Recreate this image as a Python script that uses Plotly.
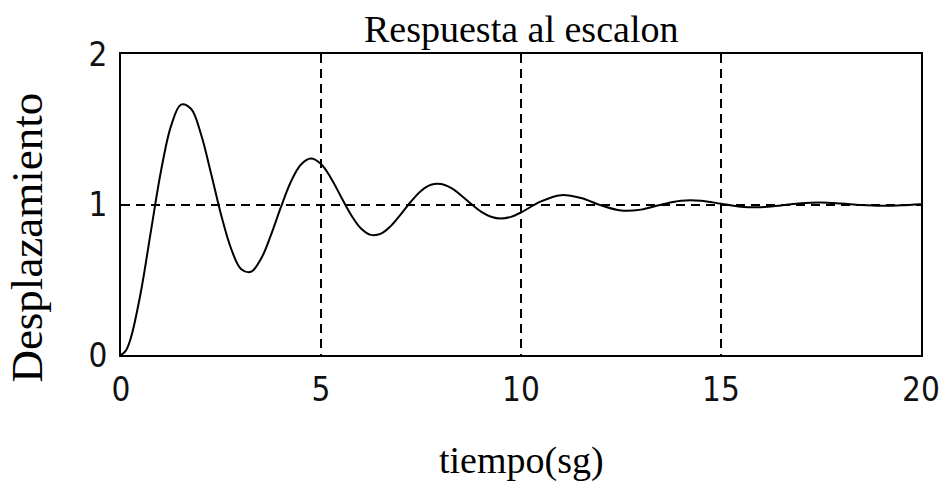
import plotly.graph_objects as go

# Step response (time in s, displacement)
t = [0, 0.125, 0.25, 0.5, 0.75, 1.0, 1.25, 1.5, 1.75, 2.0, 2.25, 2.5, 2.75, 3.0, 3.25, 3.5, 3.75,
     4.0, 4.25, 4.5, 4.75, 5.0, 5.25, 5.5, 5.75, 6.0, 6.25, 6.5, 6.75, 7.0, 7.25, 7.5, 7.75,
     8.0, 8.25, 8.5, 8.75, 9.0, 9.25, 9.5, 9.75, 10.0, 10.5, 11.0, 11.5, 12.0, 12.5, 13.0,
     13.5, 14.0, 14.5, 15.0, 15.5, 16.0, 16.5, 17.0, 17.5, 18.0, 18.5, 19.0, 19.5, 20.0]
y = [0.0, 0.031, 0.117, 0.424, 0.827, 1.223, 1.521, 1.664, 1.636, 1.467, 1.208, 0.934, 0.709, 0.572,
     0.553, 0.639, 0.798, 0.984, 1.153, 1.266, 1.305, 1.269, 1.175, 1.052, 0.932, 0.841, 0.798,
     0.806, 0.858, 0.936, 1.020, 1.090, 1.131, 1.136, 1.110, 1.062, 1.005, 0.953, 0.919, 0.907,
     0.918, 0.947, 1.021, 1.062, 1.043, 0.994, 0.960, 0.966, 0.999, 1.025, 1.025, 1.005, 0.985,
     0.982, 0.994, 1.008, 1.013, 1.006, 0.996, 0.991, 0.995, 1.002]

x_ticks = [0, 5, 10, 15, 20]
y_ticks = [0, 1, 2]

title_text = "Respuesta al escalon"
x_title = "tiempo(sg)"
y_title = "Desplazamiento"

serif = "Liberation Serif, Times New Roman, serif"
digits = "Liberation Sans Narrow, DejaVu Sans Condensed, Liberation Sans, sans-serif"

fig = go.Figure()
fig.add_trace(go.Scatter(x=t, y=y, mode="lines", line=dict(color="black", width=2, shape="spline"),
                         hoverinfo="skip", showlegend=False))

axis_common = dict(showline=True, mirror=True, linecolor="black", linewidth=2,
                   showgrid=True, gridcolor="black", gridwidth=1.5, griddash="9px,6px",
                   zeroline=False, ticks="", automargin=False,
                   tickfont=dict(family=digits, size=33, color="#111"))

fig.update_xaxes(range=[0, 20], tickvals=x_ticks, ticktext=[str(v) for v in x_ticks],
                 ticklabelstandoff=4, **axis_common)
fig.update_yaxes(range=[0, 2], tickvals=y_ticks, ticktext=[str(v) for v in y_ticks],
                 ticklabelstandoff=5, **axis_common)

fig.add_annotation(text=title_text, xref="paper", yref="paper", x=0.5, y=1, yanchor="middle",
                   yshift=25, showarrow=False, font=dict(family=serif, size=38, color="black"))
fig.add_annotation(text=x_title, xref="paper", yref="paper", x=0.5, y=0, yanchor="middle",
                   yshift=-105, showarrow=False, font=dict(family=serif, size=38, color="black"))
fig.add_annotation(text=y_title, xref="paper", yref="paper", x=0, y=0.39, xanchor="center",
                   yanchor="middle", xshift=-94, textangle=-90, showarrow=False,
                   font=dict(family=serif, size=45, color="black"))

fig.update_layout(width=943, height=483, margin=dict(l=121, r=22, t=54, b=128),
                  paper_bgcolor="white", plot_bgcolor="white")

fig.write_html("out.html")
